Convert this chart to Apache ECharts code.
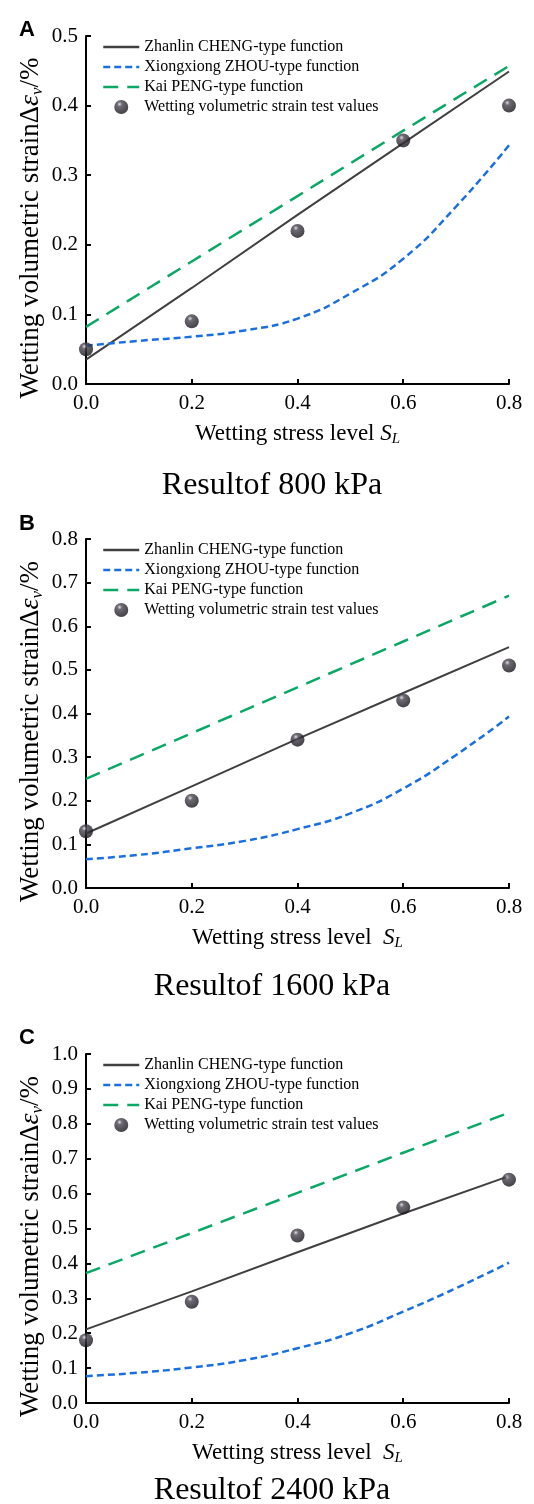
<!DOCTYPE html>
<html>
<head>
    <meta charset="utf-8">
    <title>Wetting volumetric strain</title>
    <style>
        body { margin: 0; background: #fff; }
    </style>
</head>
<body>

    <div id="main" style="width: 534px; height: 1504px;"></div>
    <script src="https://cdn.jsdelivr.net/npm/echarts@6/dist/echarts.min.js"></script>
    <script type="text/javascript">
        // stress levels
        var sl = [0, 0.2, 0.4, 0.6, 0.8];
        var slFine = [0, 0.1, 0.2, 0.3, 0.4, 0.5, 0.6, 0.7, 0.8];

        // 800 kPa
        var testA = [0.05, 0.09, 0.22, 0.35, 0.40];
        var chengA = [0.035, 0.138, 0.243, 0.346, 0.449];
        var pengA = [0.082, 0.176, 0.270, 0.364, 0.457];
        var zhouA = [0.055, 0.062, 0.068, 0.077, 0.094, 0.130, 0.180, 0.255, 0.343];

        // 1600 kPa
        var testB = [0.13, 0.20, 0.34, 0.43, 0.51];
        var chengB = [0.125, 0.233, 0.342, 0.447, 0.552];
        var pengB = [0.25, 0.355, 0.46, 0.565, 0.67];
        var zhouB = [0.066, 0.076, 0.091, 0.108, 0.135, 0.171, 0.228, 0.305, 0.393];

        // 2400 kPa
        var testC = [0.18, 0.29, 0.48, 0.56, 0.64];
        var chengC = [0.211, 0.320, 0.432, 0.543, 0.650];
        var pengC = [0.372, 0.487, 0.602, 0.717, 0.832];
        var zhouC = [0.077, 0.087, 0.102, 0.123, 0.157, 0.200, 0.262, 0.329, 0.402];

        var yMax = [0.5, 0.8, 1.0];
        var captions = ['Resultof 800 kPa', 'Resultof 1600 kPa', 'Resultof 2400 kPa'];
        var letters = ['A', 'B', 'C'];
        var xNames = ['Wetting stress level {i|S}{sub|L}', 'Wetting stress level  {i|S}{sub|L}', 'Wetting stress level  {i|S}{sub|L}'];

        var names = ['Zhanlin CHENG-type function', 'Xiongxiong ZHOU-type function',
            'Kai PENG-type function', 'Wetting volumetric strain test values'];

        var serif = 'Liberation Serif';
        var gridTops = [36, 539, 1054];
        var gridHeights = [348, 349, 349];
        var captionTops = [465, 966, 1470];
        var letterTops = [14, 508, 1022];

        var sphere = new echarts.graphic.RadialGradient(0.38, 0.3, 0.7, [
            { offset: 0, color: '#d8d4dc' },
            { offset: 0.25, color: '#4a4450' },
            { offset: 1, color: '#16131a' }
        ]);

        function pairs(xs, ys) {
            return xs.map(function (x, i) { return [x, ys[i]]; });
        }

        var chartDom = document.getElementById('main');
        var myChart = echarts.init(chartDom);

        var grids = [], xAxes = [], yAxes = [], legends = [], titles = [], series = [];
        var sets = [
            [chengA, zhouA, pengA, testA],
            [chengB, zhouB, pengB, testB],
            [chengC, zhouC, pengC, testC]
        ];
        var legendData = names.map(function (n, i) {
            return i < 3 ? { name: n, itemStyle: { opacity: 0 } } : { name: n };
        });

        for (var k = 0; k < 3; k++) {
            grids.push({ left: 86, right: 25, top: gridTops[k], height: gridHeights[k] });
            xAxes.push({
                gridIndex: k, type: 'value', min: 0, max: 0.8, interval: 0.2,
                name: xNames[k], nameLocation: 'middle', nameGap: 36,
                nameTextStyle: {
                    fontFamily: serif, fontSize: 23, color: '#000',
                    rich: {
                        i: { fontFamily: serif, fontSize: 23, fontStyle: 'italic', color: '#000' },
                        sub: { fontFamily: serif, fontSize: 15, fontStyle: 'italic', color: '#000', padding: [12, 0, 0, 0] }
                    }
                },
                axisLine: { lineStyle: { color: '#000', width: 2 } },
                axisTick: { inside: true, length: 5, lineStyle: { color: '#000', width: 2 } },
                axisLabel: { fontFamily: serif, fontSize: 21, color: '#000', margin: 9,
                    formatter: function (v) { return v.toFixed(1); } },
                splitLine: { show: false }
            });
            yAxes.push({
                gridIndex: k, type: 'value', min: 0, max: yMax[k], interval: 0.1,
                name: 'Wetting volumetric strain{d|Δ}{e|ε}{sub|v}{d|/%}', nameLocation: 'middle',
                nameGap: 40, nameMoveOverlap: false,
                nameTextStyle: {
                    fontFamily: serif, fontSize: 27, color: '#000', padding: [0, 36, 0, 0],
                    rich: {
                        d: { fontFamily: serif, fontSize: 27, color: '#000' },
                        e: { fontFamily: serif, fontSize: 28, fontStyle: 'italic', color: '#000' },
                        sub: { fontFamily: serif, fontSize: 17, fontStyle: 'italic', color: '#000', padding: [13, 0, 0, 0] }
                    }
                },
                axisLine: { show: true, lineStyle: { color: '#000', width: 2 } },
                axisTick: { show: true, inside: true, length: 5, lineStyle: { color: '#000', width: 2 } },
                axisLabel: { fontFamily: serif, fontSize: 21, color: '#000', margin: 8,
                    formatter: function (v) { return v.toFixed(1); } },
                splitLine: { show: false }
            });
            legends.push({
                orient: 'vertical', left: 102, top: gridTops[k] + 3, padding: 0,
                itemWidth: 36, itemHeight: 14, itemGap: 4,
                lineStyle: { width: 2.5 },
                textStyle: { fontFamily: serif, fontSize: 16, color: '#000' },
                data: legendData
            });
            titles.push({
                text: captions[k], left: 267, textAlign: 'center', top: captionTops[k],
                textStyle: { fontFamily: serif, fontSize: 32, fontWeight: 'normal', color: '#000' }
            });
            titles.push({
                text: letters[k], left: 14, top: letterTops[k],
                textStyle: { fontFamily: 'Liberation Sans', fontSize: 22, fontWeight: 'bold', color: '#000' }
            });

            var d = sets[k];
            series.push({
                name: names[0], type: 'line', xAxisIndex: k, yAxisIndex: k,
                data: pairs(sl, d[0]), symbol: 'none',
                lineStyle: { color: '#404040', width: 2 }, itemStyle: { color: '#404040' }
            });
            series.push({
                name: names[1], type: 'line', xAxisIndex: k, yAxisIndex: k,
                data: pairs(slFine, d[1]), symbol: 'none', smooth: true,
                lineStyle: { color: '#1a6fe0', width: 2.5, type: [7, 4] }, itemStyle: { color: '#1a6fe0' }
            });
            series.push({
                name: names[2], type: 'line', xAxisIndex: k, yAxisIndex: k,
                data: pairs(sl, d[2]), symbol: 'none',
                lineStyle: { color: '#0aa865', width: 2.5, type: [15, 9] }, itemStyle: { color: '#0aa865' }
            });
            series.push({
                name: names[3], type: 'scatter', xAxisIndex: k, yAxisIndex: k,
                data: pairs(sl, d[3]), symbolSize: 14, z: 5,
                itemStyle: { color: sphere }
            });
        }

        var option = {
            animation: false,
            title: titles,
            legend: legends,
            grid: grids,
            xAxis: xAxes,
            yAxis: yAxes,
            series: series
        };

        myChart.setOption(option);
    </script>
</body>
</html>
